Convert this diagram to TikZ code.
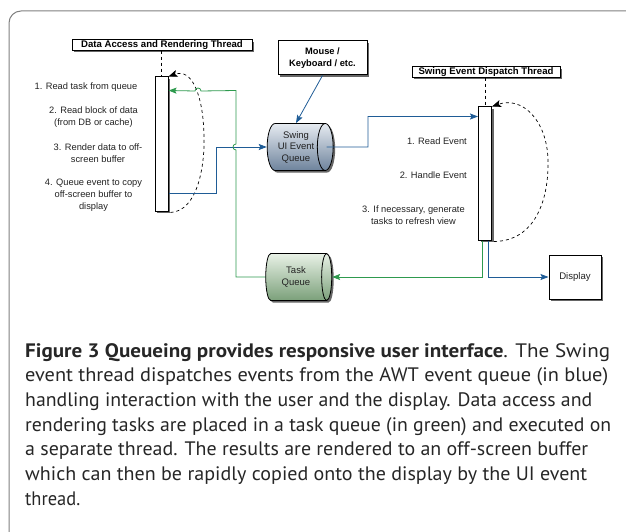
\documentclass[tikz,border=0pt]{standalone}
\usepackage{graphicx}
\usepackage{fontspec}
\setmainfont{Liberation Sans}
\newfontfamily\capfont{PT Sans}
\usetikzlibrary{shapes.geometric,shadows,arrows.meta,calc}
\definecolor{bl}{HTML}{1F5C96}
\definecolor{gr}{HTML}{2E9A4E}
\definecolor{txt}{HTML}{222222}
\definecolor{swtop}{HTML}{E6EBF1}
\definecolor{swbot}{HTML}{6E839C}
\definecolor{tqtop}{HTML}{E8F1E6}
\definecolor{tqbot}{HTML}{7BA07A}
\newcommand{\capfit}[2]{\resizebox{#1}{\height}{#2}}
\begin{document}
\begin{tikzpicture}[x=1pt,y=-1pt,
  shad/.style={drop shadow={shadow xshift=2pt,shadow yshift=-2pt,opacity=0.6,fill=black}},
  lbl/.style={font=\fontsize{9.3}{12}\selectfont,text=txt,align=center,inner sep=0},
  titlebox/.style={draw,line width=1pt,fill=white,shad,inner sep=0,minimum height=10.5pt,font=\fontsize{9.6}{10}\selectfont\bfseries},
  bar/.style={draw,line width=1pt,fill=white,shad,minimum width=13pt,inner sep=0},
  queue/.style={cylinder,shape aspect=0.5,draw,line width=0.8pt,minimum height=66pt,minimum width=47pt,shad,align=center,inner sep=0,font=\fontsize{9.5}{11.5}\selectfont,text=txt},
  blarrow/.style={draw=bl,line width=0.8pt,-{Stealth[length=8pt,width=6pt,inset=1.5pt]}},
  grarrow/.style={draw=gr,line width=0.8pt,-{Stealth[length=8pt,width=6pt,inset=1.5pt]}},
  dasharrow/.style={dashed,line width=0.7pt,-{Stealth[length=9pt,width=7pt,inset=2pt]}},
  capline/.style={anchor=base west,inner sep=0,font=\capfont\fontsize{19.5}{24}\selectfont,text=black!85}
]
\useasboundingbox (0,0) rectangle (626,532);
% frame
\draw[black!50,line width=1pt,rounded corners=12pt] (9,533) -- (9,11) -- (627,11);

% titles
\node[titlebox,minimum width=180pt] (dtitle) at (162,45) {Data Access and Rendering Thread};
\node[titlebox,minimum width=148pt] (stitle) at (486,72) {Swing Event Dispatch Thread};
\node[draw,line width=1pt,fill=white,shad,minimum width=89pt,minimum height=34pt,inner sep=0,align=center,font=\fontsize{9.3}{11.5}\selectfont\bfseries] (mouse) at (322.5,58) {Mouse /\\Keyboard / etc.};
\node[draw,line width=1pt,fill=white,shad,minimum width=52pt,minimum height=44pt,inner sep=0,font=\fontsize{9.6}{11}\selectfont,text=txt] (display) at (575,277) {Display};

% bars
\node[bar,minimum height=134pt] (lbar) at (161.5,144) {};
\node[bar,minimum height=133pt] (rbar) at (485,173.5) {};

% lifelines
\draw[dashed,line width=0.7pt] (dtitle.south -| lbar.north) -- (lbar.north);
\draw[dashed,line width=0.7pt] (stitle.south -| rbar.north) -- (rbar.north);

% queues
\node[queue,top color=swtop,bottom color=swbot] (swing) at (296,147) {Swing\\UI Event\\Queue};
\node[queue,top color=tqtop,bottom color=tqbot] (task) at (296,277) {Task\\Queue};

% labels left
\node[lbl] (l1) at (86,87) {1. Read task from queue};
\node[lbl] (l2) at (93.5,117) {2. Read block of data\\(from DB or cache)};
\node[lbl] (l3) at (98,153) {3. Render data to off-\\screen buffer};
\node[lbl] (l4) at (93.5,195.5) {4. Queue event to copy\\off-screen buffer to\\display};
% labels right
\node[lbl,anchor=east] (r1) at (467,141) {1. Read Event};
\node[lbl,anchor=east] (r2) at (467,175) {2. Handle Event};
\node[lbl] (r3) at (413.5,215.5) {3. If necessary, generate\\tasks to refresh view};

% dashed self loops
\coordinate (lbot) at ($(lbar.south east)+(2,1)$);
\coordinate (rbot) at ($(rbar.south east)+(2,1)$);
\draw[dasharrow] (lbot) .. controls (198,211) and (205,165) .. (204,135) .. controls (203,95) and (192,68) .. (lbar.north east);
\draw[dasharrow] (rbot) .. controls (535,241) and (549,200) .. (548,160) .. controls (547,120) and (522,96) .. (rbar.north east);

% blue connectors
\draw[blarrow] (mouse.south) -- (swing.north);
\coordinate (sOut) at ($(swing.east)+(-7,0)$);
\coordinate (sBend) at (368,147);
\coordinate (rIn) at ($(rbar.north west)+(0,10)$);
\draw[blarrow] (sOut) -- (sBend) |- (rIn);
\coordinate (lOut) at ($(lbar.south east)+(0,-18)$);
\coordinate (lBend) at (216,0);
\draw[blarrow] (lOut) -| (lBend |- swing.west) -- (swing.west);
\coordinate (rOutB) at ($(rbar.south)+(3.5,0)$);
\draw[blarrow] (rOutB) |- (display.west);

% green connectors
\coordinate (rOutG) at ($(rbar.south)+(-3,0)$);
\draw[grarrow] (rOutG) |- (task.east);
\coordinate (gx) at (236,0);
\coordinate (lIn) at ($(lbar.north east)+(0,14)$);
\draw[grarrow] (task.west) -- (gx |- task.west) -- ($(gx |- swing.west)+(0,3)$)
  .. controls ($(gx |- swing.west)+(-4,3)$) and ($(gx |- swing.west)+(-4,-3)$) .. ($(gx |- swing.west)+(0,-3)$)
  -- (gx |- lIn) -- (201,91) .. controls (201,87) and (195,87) .. (195,91) -- (lIn);

% caption
\node[capline] (c1) at (25,357) {\capfit{585pt}{\textbf{Figure 3 Queueing provides responsive user interface}. The Swing}};
\node[capline] (c2) at (25,381.7) {\capfit{583pt}{event thread dispatches events from the AWT event queue (in blue)}};
\node[capline] (c3) at (25,406.4) {\capfit{567pt}{handling interaction with the user and the display. Data access and}};
\node[capline] (c4) at (25,431.1) {\capfit{586pt}{rendering tasks are placed in a task queue (in green) and executed on}};
\node[capline] (c5) at (25,455.8) {\capfit{563pt}{a separate thread. The results are rendered to an off-screen buffer}};
\node[capline] (c6) at (25,480.5) {\capfit{562pt}{which can then be rapidly copied onto the display by the UI event}};
\node[capline] (c7) at (25,505.2) {\capfit{55pt}{thread.}};
\end{tikzpicture}
\end{document}
